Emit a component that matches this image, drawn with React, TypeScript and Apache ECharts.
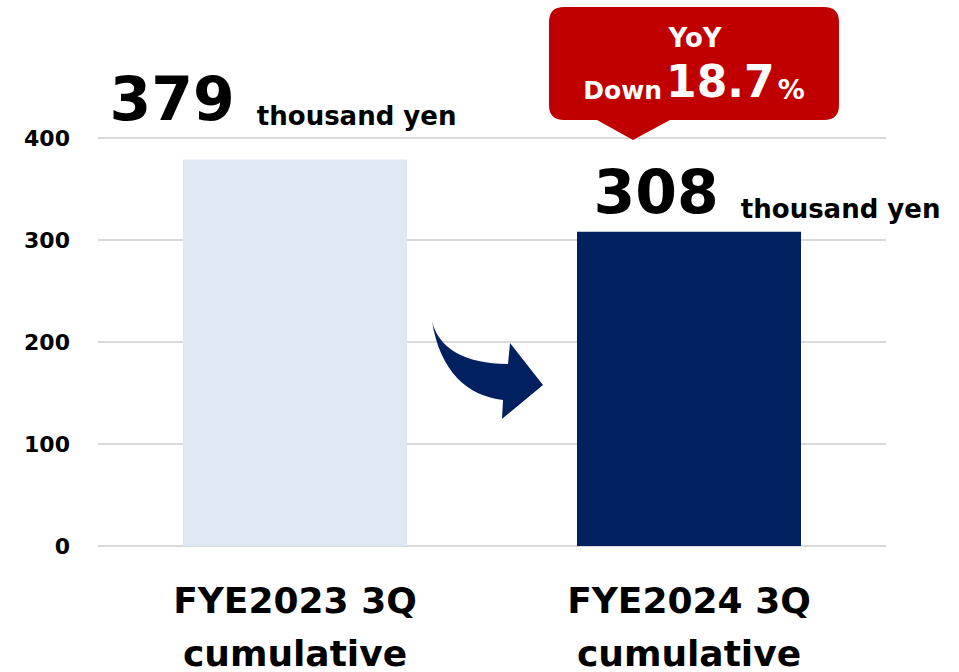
import React, { useEffect, useRef } from "react";
import * as echarts from "echarts";

const categories = ["FYE2023 3Q\ncumulative", "FYE2024 3Q\ncumulative"];
const values = [379, 308];
const barColors = ["#dde8f4", "#002060"];
const unitLabel = "thousand yen";
const yTicks = [0, 100, 200, 300, 400];
const calloutTitle = "YoY";
const calloutPrefix = "Down";
const calloutValue = "18.7";
const calloutSuffix = "%";

const FONT = "'DejaVu Sans', Verdana, sans-serif";

const ARROW_D =
  "M432,321 C438,348 465,364 508,364 L510,343 L543,385 L502,419 L503,400 C468,396 440,372 432,321 Z";
const CALLOUT_D =
  "M564,7 L824,7 Q839,7 839,22 L839,105 Q839,120 824,120 L670,120 L633,140 L597,120 L564,120 Q549,120 549,105 L549,22 Q549,7 564,7 Z";

let registered = false;
function registerShapes() {
  if (registered) return;
  registered = true;
  echarts.graphic.registerShape("arrowShape", echarts.graphic.extendPath(ARROW_D, {}));
  echarts.graphic.registerShape("calloutShape", echarts.graphic.extendPath(CALLOUT_D, {}));
}

const labelOffsets: [number, number][] = [
  [-12, -20],
  [78, 0],
];

export default function App() {
  const ref = useRef<HTMLDivElement>(null);
  useEffect(() => {
    registerShapes();
    const chart = echarts.init(ref.current!, null, { renderer: "svg" });
    chart.setOption({
      animation: false,
      grid: {
        left: 98,
        right: 73,
        top: 138,
        bottom: 126,
        containLabel: false,
        outerBoundsMode: "none",
      },
      xAxis: {
        type: "category",
        data: categories,
        axisLine: { show: false },
        axisTick: { show: false },
        axisLabel: {
          color: "#000",
          fontSize: 36,
          fontWeight: "bold",
          fontFamily: FONT,
          lineHeight: 53,
          margin: 28,
        },
      },
      yAxis: {
        type: "value",
        min: yTicks[0],
        max: yTicks[yTicks.length - 1],
        interval: 100,
        axisLine: { show: false },
        axisTick: { show: false },
        axisLabel: {
          color: "#000",
          fontSize: 22,
          fontWeight: "bold",
          fontFamily: FONT,
          margin: 28,
        },
        splitLine: { lineStyle: { color: "#d9d9d9", width: 2 } },
      },
      series: [
        {
          type: "bar",
          barWidth: 224,
          data: values.map((v, i) => ({
            value: v,
            itemStyle: { color: barColors[i] },
            label: { offset: labelOffsets[i] },
          })),
          label: {
            show: true,
            position: "top",
            distance: 10,
            formatter: "{a|{c}}{b|" + unitLabel + "}",
            rich: {
              a: {
                fontSize: 60,
                fontWeight: "bold",
                color: "#000",
                fontFamily: FONT,
                verticalAlign: "bottom",
              },
              b: {
                fontSize: 26,
                fontWeight: "bold",
                color: "#000",
                fontFamily: FONT,
                padding: [0, 0, 0, 22],
                verticalAlign: "bottom",
              },
            },
          },
        },
      ],
      graphic: [
        {
          type: "calloutShape",
          x: 0,
          y: 0,
          style: { fill: "#c00000" },
          z: 10,
        },
        {
          type: "text",
          x: 695,
          y: 38,
          z: 11,
          style: {
            text: calloutTitle,
            fill: "#fff",
            font: "bold 26px " + FONT,
            align: "center",
            verticalAlign: "middle",
          },
        },
        {
          type: "text",
          x: 694,
          y: 103,
          z: 11,
          style: {
            text: "{s|" + calloutPrefix + "}{l|" + calloutValue + "}{p|" + calloutSuffix + "}",
            fill: "#fff",
            align: "center",
            verticalAlign: "bottom",
            rich: {
              s: { fontSize: 25, fontWeight: "bold", fontFamily: FONT, fill: "#fff", verticalAlign: "bottom", padding: [0, 0, 0, 0] },
              l: { fontSize: 44, fontWeight: "bold", fontFamily: FONT, fill: "#fff", verticalAlign: "bottom", padding: [0, 3, 0, 4] },
              p: { fontSize: 27, fontWeight: "bold", fontFamily: FONT, fill: "#fff", verticalAlign: "bottom", padding: [0, 0, 0, 0] },
            },
          },
        },
        {
          type: "arrowShape",
          x: 0,
          y: 0,
          style: { fill: "#002060" },
          z: 10,
        },
      ],
    });
    return () => chart.dispose();
  }, []);
  return (
    <div
      ref={ref}
      style={{ position: "absolute", left: 0, top: 0, width: 959, height: 672, background: "#fff" }}
    />
  );
}
